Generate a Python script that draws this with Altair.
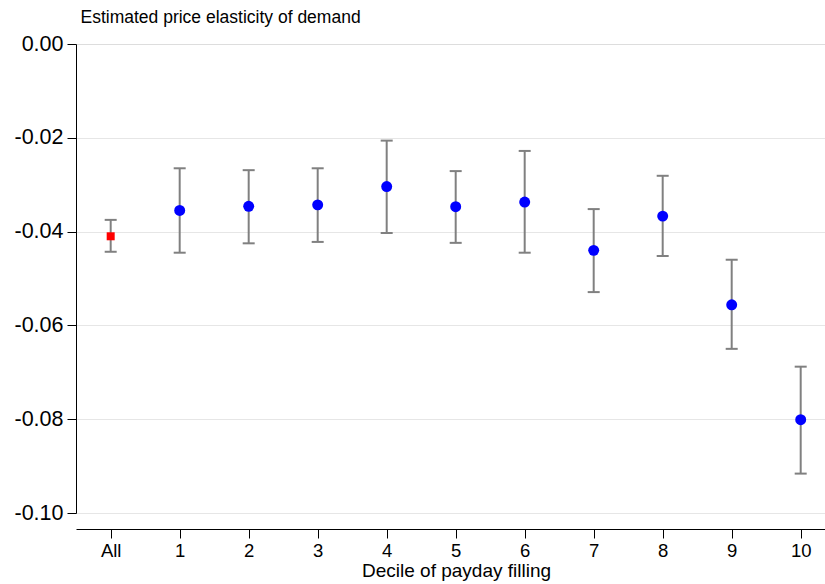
import altair as alt
import pandas as pd

cats = ["All", "1", "2", "3", "4", "5", "6", "7", "8", "9", "10"]
est = [-0.0410, -0.0355, -0.0346, -0.0343, -0.0304, -0.0347, -0.0337, -0.0440, -0.0367, -0.0556, -0.0801]
upper = [-0.0375, -0.0265, -0.0269, -0.0265, -0.0206, -0.0271, -0.0228, -0.0352, -0.0281, -0.0460, -0.0688]
lower = [-0.0443, -0.0445, -0.0425, -0.0422, -0.0403, -0.0424, -0.0445, -0.0529, -0.0452, -0.0650, -0.0916]
kind = ["all"] + ["decile"] * 10
y_ticks = [0.0, -0.02, -0.04, -0.06, -0.08, -0.10]

df = pd.DataFrame({"cat": cats, "est": est, "upper": upper, "lower": lower, "kind": kind})

FONT = "Liberation Sans"

xenc = alt.X(
    "cat:N",
    sort=cats,
    scale=alt.Scale(type="point", padding=0.4275, align=0.588),
    axis=alt.Axis(
        title="Decile of payday filling",
        labelAngle=0,
        labelFontSize=18.5,
        labelFont=FONT,
        labelColor="black",
        labelPadding=3,
        titleFont=FONT,
        titleFontSize=19,
        titleFontWeight="normal",
        titleColor="black",
        titlePadding=2,
        titleX=380,
        tickSize=9,
        tickColor="black",
        domainColor="black",
        offset=16,
        grid=False,
    ),
)

yaxis = alt.Axis(
    title="Estimated price elasticity of demand",
    titleAngle=0,
    titleAlign="left",
    titleBaseline="alphabetic",
    titleX=4,
    titleY=-22,
    titleFont=FONT,
    titleFontSize=17.5,
    titleFontWeight="normal",
    titleColor="black",
    values=y_ticks,
    labelExpr="replace(format(datum.value, '.2f'), '\u2212', '-')",
    labelFont=FONT,
    labelFontSize=21.5,
    labelColor="black",
    labelPadding=4,
    tickSize=9,
    tickColor="black",
    domainColor="black",
    grid=True,
    gridColor={"condition": {"test": "datum.value == 0", "value": "transparent"}, "value": "#e6e6e6"},
    gridWidth=1.2,
)

base = alt.Chart(df)

bars = base.mark_rule(color="#808080", strokeWidth=2).encode(
    x=xenc,
    y=alt.Y("upper:Q", scale=alt.Scale(domain=[-0.10, 0.0], nice=False, zero=False), axis=yaxis),
    y2="lower:Q",
)
cap_hi = base.mark_tick(color="#808080", thickness=2, size=12, opacity=1).encode(x=xenc, y="upper:Q")
cap_lo = base.mark_tick(color="#808080", thickness=2, size=12, opacity=1).encode(x=xenc, y="lower:Q")

pts = base.transform_filter("datum.kind == 'decile'").mark_circle(
    color="#0000ff", size=120, opacity=1
).encode(x=xenc, y="est:Q")

sq = base.transform_filter("datum.kind == 'all'").mark_square(
    color="#ff0000", size=64, opacity=1
).encode(x=xenc, y="est:Q")

chart = (
    alt.layer(bars, cap_hi, cap_lo, pts, sq)
    .properties(width=749, height=469, padding={"left": 13, "top": 8, "right": 0, "bottom": 5})
    .configure_view(stroke=None)
    .configure(background="white")
)

chart.save("out.html", embed_options={"renderer": "svg", "actions": False})
